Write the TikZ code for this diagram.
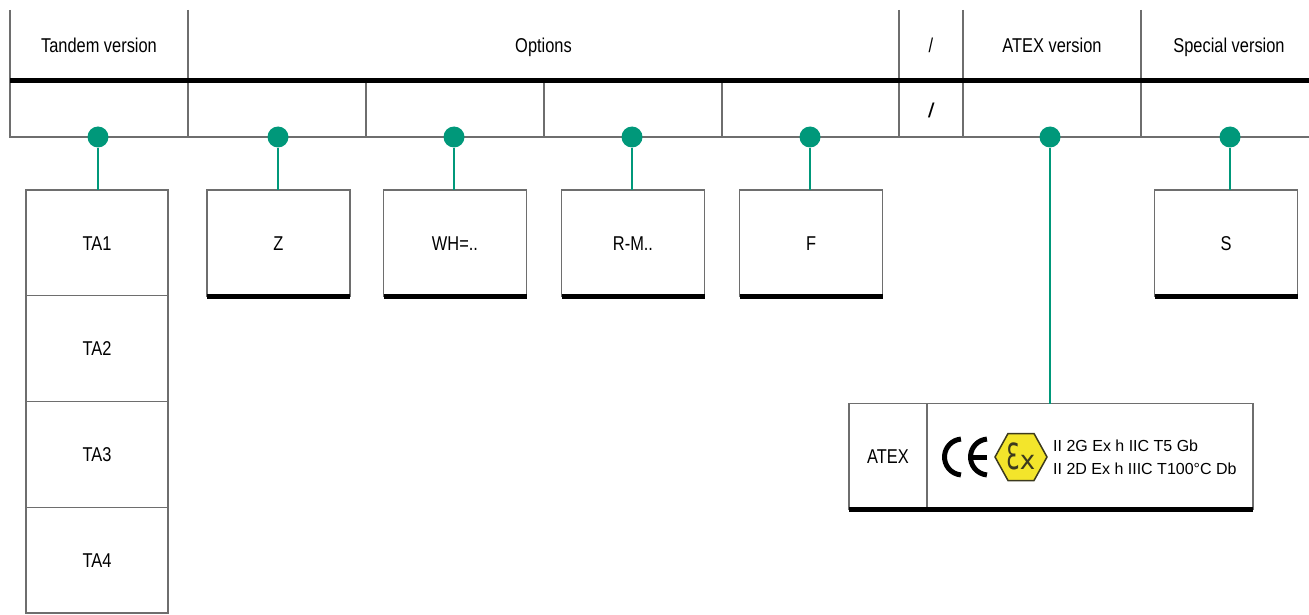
\documentclass[tikz,border=0pt]{standalone}
\usepackage{fontspec}
\usepackage{graphicx}
\setmainfont{Liberation Sans}[FakeStretch=0.82]
\newfontfamily\plainsans{Liberation Sans}
\newfontfamily\exfont{DejaVu Sans}
\usetikzlibrary{positioning}
\definecolor{rulegray}{HTML}{6E6E6E}
\definecolor{pfgreen}{HTML}{00987A}
\definecolor{exyellow}{HTML}{F3E52B}
\definecolor{exborder}{HTML}{3C3A1E}

\begin{document}
\begin{tikzpicture}[x=1pt, y=-1pt,
  cell/.style={draw=rulegray, line width=1.3pt, inner sep=0pt, outer sep=0pt, fill=white, text height=14.5pt, text depth=0pt, font=\fontsize{20}{24}\selectfont},
  optbox/.style={cell, minimum width=143pt, minimum height=106pt},
  tabox/.style={cell, minimum width=142pt, minimum height=105.75pt},
  headtext/.style={inner sep=0pt, text height=14.5pt, text depth=0pt, font=\fontsize{20}{24}\selectfont},
  joint/.style={circle, fill=pfgreen, inner sep=0pt, minimum size=21pt},
  link/.style={draw=pfgreen, line width=1.3pt},
  grid/.style={draw=rulegray, line width=1.3pt},
  bar/.style={line width=5pt}]
\useasboundingbox (0,0) rectangle (1309,615);

% header
\draw[grid] (10,10) -- (10,137) -- (1309,137);
\draw[grid] (188,10) -- (188,137);
\draw[grid] (366,80) -- (366,137);
\draw[grid] (544,80) -- (544,137);
\draw[grid] (722,80) -- (722,137);
\draw[grid] (899,10) -- (899,137);
\draw[grid] (963,10) -- (963,137);
\draw[grid] (1141,10) -- (1141,137);
\draw[bar] (10,80.5) -- (1309,80.5);

\node[headtext] (htandem) at (99,45) {Tandem version};
\node[headtext] (hoptions) at (543.5,45) {Options};
\node[headtext] (hslash) at (931,45) {/};
\node[headtext] (hatex) at (1052,45) {ATEX version};
\node[headtext] (hspecial) at (1229,45) {Special version};
\node[headtext, font=\fontsize{20}{24}\selectfont\bfseries\itshape] (slash) at (931,110) {/};

% code positions
\node[joint] (dta) at (98,137) {};
\node[joint] (dz) at (278,137) {};
\node[joint] (dwh) at (454,137) {};
\node[joint] (drm) at (632,137) {};
\node[joint] (df) at (810,137) {};
\node[joint] (datex) at (1050,137) {};
\node[joint] (ds) at (1230,137) {};

% tandem
\node[tabox] (ta1) at (97,242.9) {TA1};
\node[tabox, below=0pt of ta1] (ta2) {TA2};
\node[tabox, below=0pt of ta2] (ta3) {TA3};
\node[tabox, below=0pt of ta3] (ta4) {TA4};

% options
\node[optbox] (z) at (278.5,243) {Z};
\node[optbox] (wh) at (455,243) {WH=..};
\node[optbox] (rm) at (633,243) {R-M..};
\node[optbox] (f) at (811,243) {F};
\node[optbox] (s) at (1226,243) {S};
\draw[bar] (z.south west) -- (z.south east);
\draw[bar] (wh.south west) -- (wh.south east);
\draw[bar] (rm.south west) -- (rm.south east);
\draw[bar] (f.south west) -- (f.south east);
\draw[bar] (s.south west) -- (s.south east);

% atex
\node[cell, minimum width=78pt, minimum height=106pt] (atexname) at (888,456.5) {ATEX};
\node[cell, minimum width=326pt, minimum height=106pt, right=0pt of atexname] (atexmark) {};
\draw[bar] (atexname.south west) -- (atexmark.south east);

\draw[line width=5pt] (962.5,457) ++(95:18) arc[start angle=95, end angle=265, radius=18];
\draw[line width=5pt] (988.5,457) ++(95:18) arc[start angle=95, end angle=265, radius=18];
\draw[line width=5pt] (972,457) -- (987,457);
\draw[fill=exyellow, draw=exborder, line width=1.5pt] (1021,457) +(26,0) -- +(13,23.5) -- +(-13,23.5) -- +(-26,0) -- +(-13,-23.5) -- +(13,-23.5) -- cycle;
\node[inner sep=0pt, text=exborder, font=\exfont] (exsign) at (1021,456.5) {\fontsize{36}{36}\selectfont\scalebox{0.6}[1]{Ɛ}\fontsize{26}{26}\selectfont x};
\node[inner sep=0pt, anchor=west, align=left, font=\plainsans\fontsize{16}{23}\selectfont] (marking) at (1053,457) {II 2G Ex h IIC T5 Gb\\II 2D Ex h IIIC T100°C Db};

% connectors
\draw[link] (dta.south) -- (dta.south |- ta1.north);
\draw[link] (dz.south) -- (dz.south |- z.north);
\draw[link] (dwh.south) -- (dwh.south |- wh.north);
\draw[link] (drm.south) -- (drm.south |- rm.north);
\draw[link] (df.south) -- (df.south |- f.north);
\draw[link] (datex.south) -- (datex.south |- atexmark.north);
\draw[link] (ds.south) -- (ds.south |- s.north);

\end{tikzpicture}
\end{document}
